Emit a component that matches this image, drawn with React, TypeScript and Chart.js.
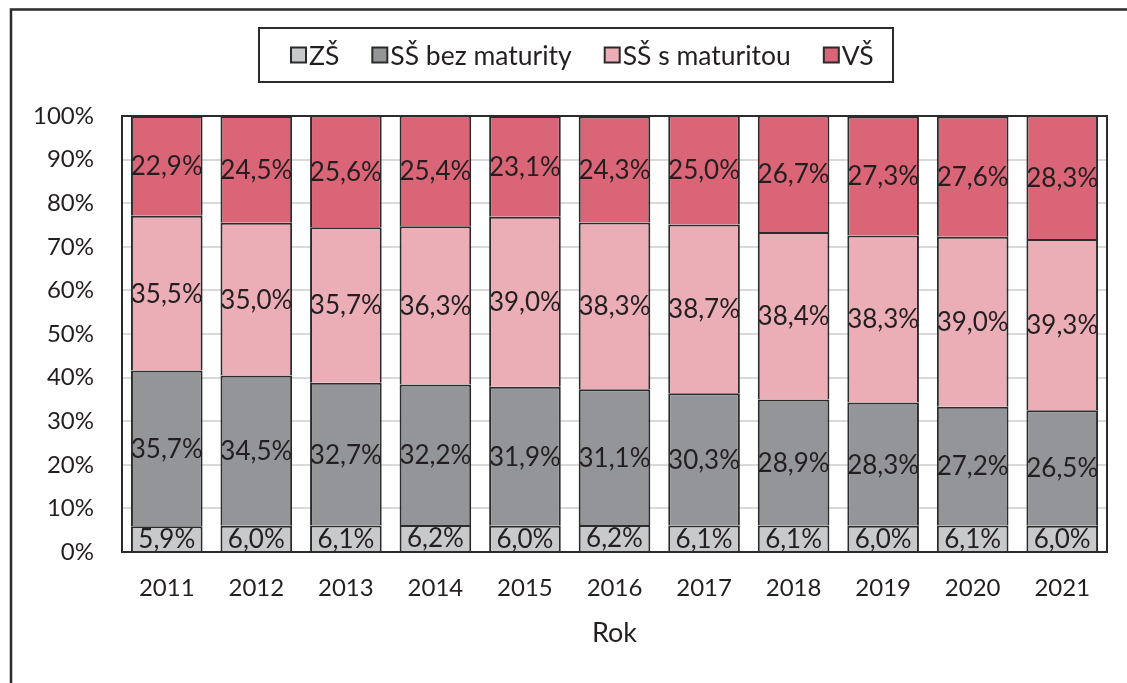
import { useEffect, useRef } from "react";
import { Chart, registerables } from "chart.js";

Chart.register(...registerables);

const years = ["2011", "2012", "2013", "2014", "2015", "2016", "2017", "2018", "2019", "2020", "2021"];
const zs = [5.9, 6.0, 6.1, 6.2, 6.0, 6.2, 6.1, 6.1, 6.0, 6.1, 6.0];
const ssBez = [35.7, 34.5, 32.7, 32.2, 31.9, 31.1, 30.3, 28.9, 28.3, 27.2, 26.5];
const ssS = [35.5, 35.0, 35.7, 36.3, 39.0, 38.3, 38.7, 38.4, 38.3, 39.0, 39.3];
const vs = [22.9, 24.5, 25.6, 25.4, 23.1, 24.3, 25.0, 26.7, 27.3, 27.6, 28.3];
const seriesNames = ["ZŠ", "SŠ bez maturity", "SŠ s maturitou", "VŠ"];
const seriesColors = ["#c8c9cb", "#939598", "#ebaeb7", "#d96577"];
const xTitle = "Rok";

const FONT = "Lato, 'Noto Sans', sans-serif";
const TEXT = "#231f20";
const LINE = "#2b2b2b";

const fmt = (v: number) => v.toFixed(1).replace(".", ",") + "%";

const framePlugin = {
  id: "frame",
  beforeDraw(chart: any) {
    const ctx = chart.ctx;
    ctx.save();
    ctx.fillStyle = "#ffffff";
    ctx.fillRect(0, 0, chart.width, chart.height);
    // outer frame
    ctx.strokeStyle = LINE;
    ctx.lineWidth = 2.5;
    ctx.beginPath();
    ctx.moveTo(11, chart.height + 5);
    ctx.lineTo(11, 9.5);
    ctx.lineTo(chart.width + 5, 9.5);
    ctx.stroke();
    // legend frame
    ctx.lineWidth = 2;
    ctx.strokeRect(259, 28, 634, 54);
    // legend items
    ctx.font = `26.5px ${FONT}`;
    ctx.textBaseline = "middle";
    ctx.textAlign = "left";
    let x = 291;
    const cy = 55;
    const box = 15;
    seriesNames.forEach((name, i) => {
      ctx.fillStyle = seriesColors[i];
      ctx.fillRect(x, cy - box / 2, box, box);
      ctx.lineWidth = 2;
      ctx.strokeStyle = LINE;
      ctx.strokeRect(x, cy - box / 2, box, box);
      x += box + 3;
      ctx.fillStyle = TEXT;
      ctx.fillText(name, x, cy + 1);
      x += ctx.measureText(name).width + 33;
    });
    ctx.restore();
  },
};

const labelsPlugin = {
  id: "valueLabels",
  afterDatasetsDraw(chart: any) {
    const ctx = chart.ctx;
    const a = chart.chartArea;
    ctx.save();
    // plot area border
    ctx.strokeStyle = LINE;
    ctx.lineWidth = 2;
    ctx.strokeRect(a.left, a.top, a.right - a.left, a.bottom - a.top);
    ctx.font = `26px ${FONT}`;
    ctx.fillStyle = TEXT;
    ctx.textAlign = "center";
    ctx.textBaseline = "middle";
    chart.data.datasets.forEach((ds: any, di: number) => {
      const meta = chart.getDatasetMeta(di);
      meta.data.forEach((el: any, i: number) => {
        const p = el.getProps(["x", "y", "base"], true);
        ctx.fillText(fmt(ds.data[i]), p.x, (p.y + p.base) / 2 + 1);
      });
    });
    ctx.restore();
  },
};

export default function App() {
  const ref = useRef<HTMLCanvasElement | null>(null);
  useEffect(() => {
    if (!ref.current) return;
    const series = [zs, ssBez, ssS, vs];
    const chart = new Chart(ref.current, {
      type: "bar",
      data: {
        labels: years,
        datasets: series.map((d, i) => ({
          label: seriesNames[i],
          data: d,
          backgroundColor: seriesColors[i],
          borderColor: LINE,
          borderWidth: 2,
          categoryPercentage: 1,
          barPercentage: 0.8,
        })),
      },
      options: {
        responsive: false,
        animation: false,
        layout: { padding: { left: 0, right: 20, top: 116, bottom: 34 } },
        plugins: { legend: { display: false }, tooltip: { enabled: false } },
        scales: {
          x: {
            stacked: true,
            grid: { display: false, drawTicks: false },
            border: { display: false },
            ticks: { font: { family: FONT, size: 24 }, color: TEXT, padding: 22 },
            title: {
              display: true,
              text: xTitle,
              font: { family: FONT, size: 27 },
              color: TEXT,
              padding: { top: 18, bottom: 0 },
            },
            afterFit: (scale: any) => {
              scale.height = 97;
            },
          },
          y: {
            stacked: true,
            min: 0,
            max: 100,
            grid: { color: "#d9d9d9", lineWidth: 2, drawTicks: false },
            border: { display: false },
            ticks: {
              stepSize: 10,
              font: { family: FONT, size: 24 },
              color: TEXT,
              padding: 28,
              callback: (v: any) => v + "%",
            },
            afterFit: (scale: any) => {
              scale.width = 122;
            },
          },
        },
      },
      plugins: [framePlugin, labelsPlugin],
    });
    return () => chart.destroy();
  }, []);
  return (
    <div style={{ position: "absolute", left: 0, top: 0, width: 1127, height: 683 }}>
      <canvas ref={ref} width={1127} height={683} style={{ display: "block" }} />
    </div>
  );
}
